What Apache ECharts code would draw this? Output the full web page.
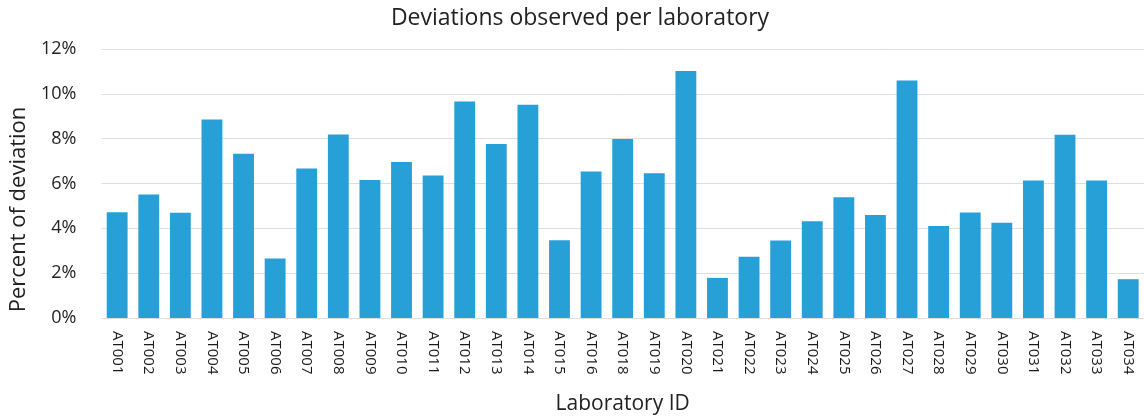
<!DOCTYPE html>
<html>
<head>
<meta charset="utf-8">
<script src="https://cdn.jsdelivr.net/npm/echarts@6/dist/echarts.min.js"></script>
<style>html,body{margin:0;padding:0;background:#fff}#c{width:1144px;height:420px}</style>
</head>
<body>
<div id="c"></div>
<script>
const labs = ['AT001','AT002','AT003','AT004','AT005','AT006','AT007','AT008','AT009','AT010','AT011','AT012','AT013','AT014','AT015','AT016','AT018','AT019','AT020','AT021','AT022','AT023','AT024','AT025','AT026','AT027','AT028','AT029','AT030','AT031','AT032','AT033','AT034'];
const deviation = [4.72,5.51,4.70,8.86,7.33,2.65,6.67,8.19,6.16,6.96,6.36,9.66,7.76,9.51,3.47,6.53,7.99,6.46,11.02,1.79,2.73,3.46,4.32,5.39,4.59,10.59,4.10,4.71,4.25,6.13,8.18,6.13,1.73];
const yTicks = [0,2,4,6,8,10,12];

const font = '"Open Sans", "Liberation Sans", sans-serif';
const chart = echarts.init(document.getElementById('c'));
chart.setOption({
  animation: false,
  title: {
    text: 'Deviations observed per laboratory',
    left: 575, top: 2, textAlign: 'center',
    textStyle: {fontFamily: font, fontSize: 23, fontWeight: 'normal', color: '#222'}
  },
  grid: {left: 94, right: 0, top: 49, bottom: 101},
  xAxis: {
    type: 'category', data: labs,
    name: 'Laboratory ID', nameLocation: 'middle', nameGap: 76,
    nameTextStyle: {fontFamily: font, fontSize: 21, color: '#222'},
    axisLine: {show: false}, axisTick: {show: false},
    axisLabel: {rotate: -90, interval: 0, margin: 13, fontFamily: font, fontSize: 15, color: '#1a1a1a'}
  },
  yAxis: {
    type: 'value', min: yTicks[0], max: yTicks[yTicks.length-1], interval: 2,
    name: 'Percent of deviation', nameLocation: 'middle', nameGap: 71,
    nameTextStyle: {fontFamily: font, fontSize: 22, color: '#222', padding: [0, 52, 0, 0]},
    axisLine: {show: false}, axisTick: {show: false},
    axisLabel: {formatter: v => v + '%', margin: 25, fontFamily: font, fontSize: 18, color: '#222'},
    splitLine: {lineStyle: {color: '#dedede', width: 1}}
  },
  series: [{
    type: 'bar', data: deviation, barCategoryGap: '34%',
    itemStyle: {color: '#27a0d8'}
  }]
});
</script>
</body>
</html>
